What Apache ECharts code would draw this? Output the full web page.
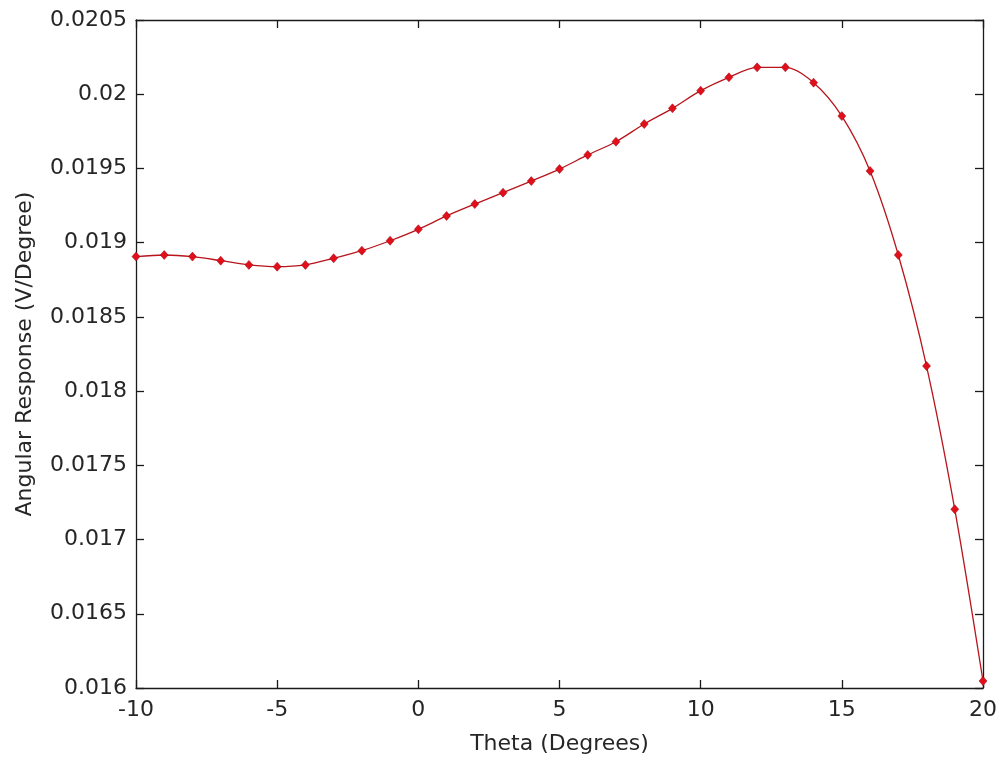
<!DOCTYPE html>
<html>
<head>
<meta charset="utf-8">
<script src="https://cdn.jsdelivr.net/npm/echarts@6/dist/echarts.min.js"></script>
<style>
  html, body { margin: 0; padding: 0; background: #fff; }
  #chart { width: 1000px; height: 764px; }
</style>
</head>
<body>
<div id="chart"></div>
<script>
// Angle sweep (degrees) and measured angular response (V/degree)
const theta = [-10, -9, -8, -7, -6, -5, -4, -3, -2, -1, 0, 1, 2, 3, 4, 5, 6, 7, 8, 9, 10,
               11, 12, 13, 14, 15, 16, 17, 18, 19, 20];
const response = [0.018906, 0.018917, 0.018906, 0.018879, 0.018850, 0.018838, 0.018850,
                  0.018895, 0.018946, 0.019013, 0.019090, 0.019180, 0.019260, 0.019337,
                  0.019415, 0.019496, 0.019591, 0.019680, 0.019799, 0.019905, 0.020024,
                  0.020114, 0.020181, 0.020181, 0.020078, 0.019853, 0.019483, 0.018917,
                  0.018169, 0.017204, 0.016047];

const xTitle = 'Theta (Degrees)';
const yTitle = 'Angular Response (V/Degree)';

const FONT = 'DejaVu Sans';
const AXIS_COLOR = '#1a1a1a';
const TEXT_COLOR = '#262626';

const chart = echarts.init(document.getElementById('chart'), null, { renderer: 'canvas' });

const fmtY = v => String(parseFloat(v.toFixed(4)));

// Box frame: bottom/left axes carry labels, top/right mirror the ticks only
const boxAxisX = (show) => ({
  type: 'value', min: -10, max: 20, interval: 5,
  axisLine: { show: true, onZero: false, lineStyle: { color: AXIS_COLOR, width: 1.3 } },
  axisTick: { show: true, inside: true, length: 8, lineStyle: { color: AXIS_COLOR, width: 1.3 } },
  splitLine: { show: false },
  axisLabel: { show: show, color: TEXT_COLOR, fontFamily: FONT, fontSize: 22, margin: 11 }
});
const boxAxisY = (show) => ({
  type: 'value', min: 0.016, max: 0.0205, interval: 0.0005,
  axisLine: { show: true, onZero: false, lineStyle: { color: AXIS_COLOR, width: 1.3 } },
  axisTick: { show: true, inside: true, length: 8, lineStyle: { color: AXIS_COLOR, width: 1.3 } },
  splitLine: { show: false },
  axisLabel: { show: show, color: TEXT_COLOR, fontFamily: FONT, fontSize: 22, margin: 9, formatter: fmtY }
});

const option = {
  backgroundColor: '#fff',
  animation: false,
  grid: { left: 136, right: 17, top: 20, bottom: 76, containLabel: false },
  xAxis: [
    Object.assign(boxAxisX(true), {
      position: 'bottom',
      name: xTitle, nameLocation: 'middle', nameGap: 45,
      nameTextStyle: { color: TEXT_COLOR, fontFamily: FONT, fontSize: 22 }
    }),
    Object.assign(boxAxisX(false), { position: 'top' })
  ],
  yAxis: [
    Object.assign(boxAxisY(true), {
      position: 'left',
      name: yTitle, nameLocation: 'middle', nameGap: 100, nameRotate: 90,
      nameTextStyle: { color: TEXT_COLOR, fontFamily: FONT, fontSize: 22 }
    }),
    Object.assign(boxAxisY(false), { position: 'right' })
  ],
  series: [{
    type: 'line',
    xAxisIndex: 0, yAxisIndex: 0,
    data: theta.map((t, i) => [t, response[i]]),
    smooth: 0.3,
    symbol: 'diamond',
    symbolSize: [8, 9],
    showAllSymbol: true,
    clip: false,
    lineStyle: { color: '#b8141c', width: 1.3 },
    itemStyle: { color: '#e0101a', borderColor: '#a00010', borderWidth: 0.5 }
  }]
};

chart.setOption(option);
</script>
</body>
</html>
